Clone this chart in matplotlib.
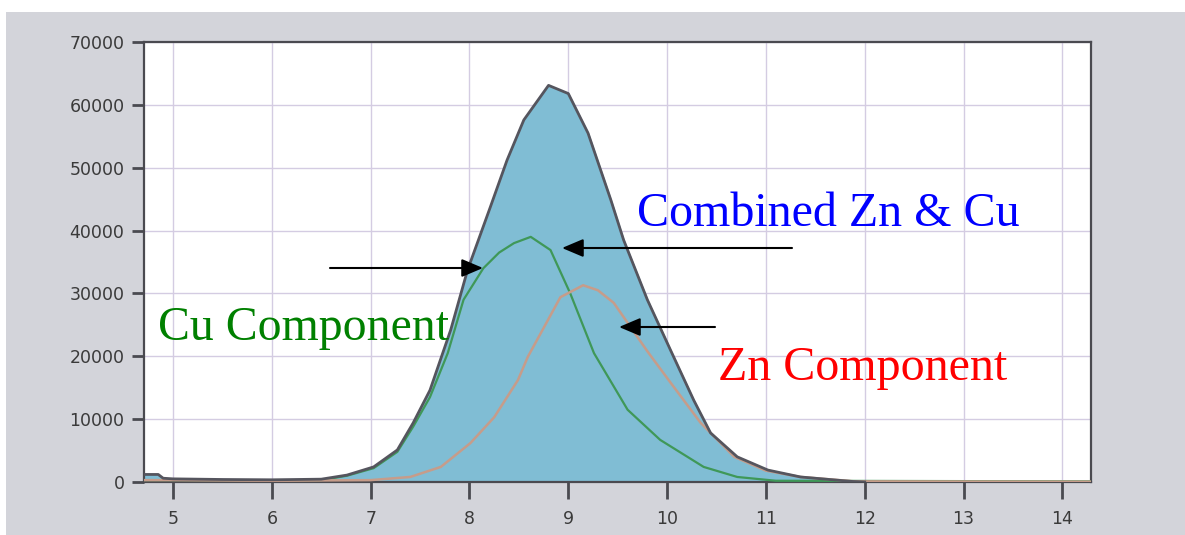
import matplotlib
matplotlib.use("Agg")
import matplotlib.pyplot as plt
from matplotlib.patches import Rectangle

# ---- data ----
x_comb = [4.71, 4.75, 4.85, 4.9, 5.0, 5.5, 6.0, 6.5, 6.76, 7.03, 7.27, 7.43, 7.6, 7.81,
          7.98, 8.21, 8.38, 8.55, 8.8, 9.0, 9.2, 9.43, 9.56, 9.8, 10.04, 10.27, 10.44,
          10.71, 11.02, 11.35, 11.86, 12.0]
y_comb = [1200, 1200, 1200, 600, 500, 400, 350, 450, 1100, 2400, 5100, 9400, 14600, 24200,
          33700, 43700, 51200, 57600, 63100, 61800, 55500, 44900, 38500, 29000, 20800, 13000, 7800,
          4000, 1900, 800, 100, 0]

x_cu = [4.71, 5.5, 6.5, 6.76, 7.03, 7.27, 7.43, 7.6, 7.78, 7.94, 8.14, 8.3, 8.45, 8.62,
        8.82, 9.02, 9.26, 9.6, 9.93, 10.37, 10.71, 11.1, 14.3]
y_cu = [300, 300, 300, 1000, 2200, 4800, 8800, 13500, 20500, 29000, 34000, 36500, 38000, 39000,
        36900, 30000, 20500, 11500, 6700, 2400, 800, 200, 100]

x_zn = [4.71, 5.0, 6.0, 7.0, 7.4, 7.71, 8.01, 8.25, 8.49, 8.59, 8.75, 8.92, 9.15, 9.3,
        9.46, 9.8, 10.04, 10.34, 10.68, 11.0, 11.35, 11.9, 14.3]
y_zn = [300, 300, 200, 300, 800, 2400, 6200, 10300, 16200, 19900, 24500, 29400, 31300, 30500,
        28500, 20800, 15700, 9400, 4000, 1800, 800, 100, 50]

x_ticks = [5, 6, 7, 8, 9, 10, 11, 12, 13, 14]
y_ticks = [0, 10000, 20000, 30000, 40000, 50000, 60000, 70000]

W, H = 1185, 535
fig = plt.figure(figsize=(W / 100, H / 100), dpi=100)
fig.patch.set_facecolor("#d3d4da")
# white margins from the scan
fig.patches.append(Rectangle((0, 1 - 12 / H), 1, 12 / H, transform=fig.transFigure,
                             facecolor="white", edgecolor="none", zorder=0))
fig.patches.append(Rectangle((0, 0), 6 / W, 1, transform=fig.transFigure,
                             facecolor="white", edgecolor="none", zorder=0))

ax = fig.add_axes([144 / W, 1 - 482 / H, (1091 - 144) / W, (482 - 42) / H])
ax.set_facecolor("white")
ax.set_xlim(4.706, 14.29)
ax.set_ylim(0, 70000)
ax.set_xticks(x_ticks)
ax.set_yticks(y_ticks)
ax.grid(True, color="#d4cce2", linewidth=1.0)
ax.set_axisbelow(True)
for s in ax.spines.values():
    s.set_color("#4a4a50")
    s.set_linewidth(1.6)
ax.tick_params(axis="both", colors="#4a4a50", labelcolor="#3a3a3a", labelsize=12.5,
               width=2, direction="out")
ax.tick_params(axis="y", length=9, pad=5)
ax.tick_params(axis="x", length=12, pad=8)

ax.fill_between(x_comb, y_comb, 0, color="#80bdd4", zorder=2)
ax.plot(x_comb, y_comb, color="#55555e", linewidth=2.0, zorder=4)
ax.plot(x_cu, y_cu, color="#3f9858", linewidth=1.6, zorder=3)
ax.plot(x_zn, y_zn, color="#c69c8a", linewidth=1.8, zorder=3)

# ---- annotations ----
def px2data(px, py):
    inv = ax.transData.inverted()
    return inv.transform((px, H - py))

serif = ["Liberation Serif", "DejaVu Serif"]
fig.canvas.draw()
tx, ty = px2data(637, 226)
ax.text(tx, ty, "Combined Zn & Cu", color="#0000ff", fontsize=34.6, family=serif,
        ha="left", va="baseline", zorder=6)
tx, ty = px2data(158, 340)
ax.text(tx, ty, "Cu Component", color="#008000", fontsize=34.4, family=serif,
        ha="left", va="baseline", zorder=6)
tx, ty = px2data(718, 380)
ax.text(tx, ty, "Zn Component", color="#ff0000", fontsize=34.6, family=serif,
        ha="left", va="baseline", zorder=6)

arrowprops = dict(arrowstyle="-|>,head_length=1.3,head_width=0.55", color="black",
                  linewidth=1.5, shrinkA=0, shrinkB=0)
for (sx, sy), (ex, ey) in [((330, 268), (483, 268)),
                           ((792, 248), (562, 248)),
                           ((715, 327), (619, 327))]:
    ax.annotate("", xy=px2data(ex, ey), xytext=px2data(sx, sy),
                arrowprops=arrowprops, zorder=7)

fig.savefig("out.png", dpi=100, facecolor=fig.get_facecolor())
